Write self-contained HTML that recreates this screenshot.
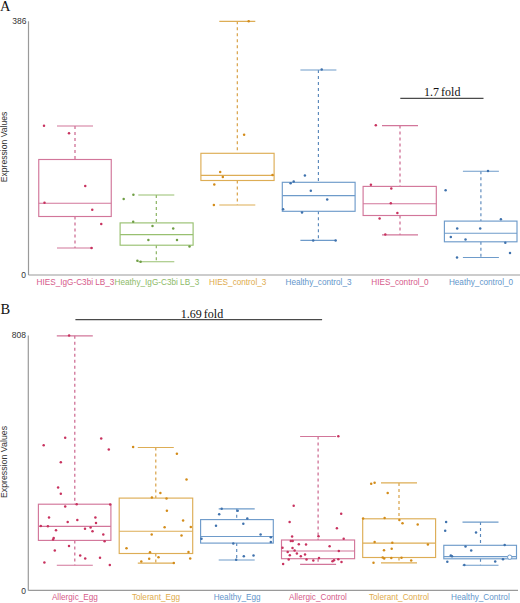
<!DOCTYPE html>
<html><head><meta charset="utf-8"><style>
html,body{margin:0;padding:0;background:#fff;width:520px;height:603px;overflow:hidden}
svg{display:block}
text{font-family:"Liberation Sans",sans-serif}
.serif{font-family:"Liberation Serif",serif}
</style></head><body>
<svg width="520" height="603" viewBox="0 0 520 603">
<text x="0" y="10.6" class="serif" font-size="14.5" fill="#111">A</text>
<line x1="28.5" y1="21.3" x2="28.5" y2="275" stroke="#9a9a9a" stroke-width="1.2"/>
<line x1="28.5" y1="275" x2="520" y2="275" stroke="#9a9a9a" stroke-width="1.2"/>
<text x="26.5" y="24.1" text-anchor="end" font-size="8.5" fill="#333">386</text>
<text x="26" y="278" text-anchor="end" font-size="8.5" fill="#333">0</text>
<text transform="translate(7,147) rotate(-90)" text-anchor="middle" font-size="8.6" fill="#333">Expression Values</text>
<g stroke="#d2769a" stroke-width="1.15" fill="none">
<line x1="75" y1="126" x2="75" y2="159.5" stroke="#c95f89" stroke-dasharray="3,3"/>
<line x1="75" y1="216.5" x2="75" y2="248" stroke="#c95f89" stroke-dasharray="3,3"/>
<line x1="57" y1="126" x2="93" y2="126"/>
<line x1="57" y1="248" x2="93" y2="248"/>
<rect x="38.75" y="159.5" width="72.50" height="57.00"/>
<line x1="38.75" y1="203.25" x2="111.25" y2="203.25"/>
</g>
<g fill="#c8325f"><circle cx="44" cy="125.75" r="1.25"/><circle cx="69" cy="133.25" r="1.25"/><circle cx="85.25" cy="186" r="1.25"/><circle cx="44.5" cy="202.75" r="1.25"/><circle cx="92.25" cy="209.75" r="1.25"/><circle cx="101.25" cy="224" r="1.25"/><circle cx="91.5" cy="248" r="1.25"/></g>
<g stroke="#98c070" stroke-width="1.15" fill="none">
<line x1="156.3" y1="195" x2="156.3" y2="222.9" stroke="#86b05c" stroke-dasharray="3,3"/>
<line x1="156.3" y1="245.2" x2="156.3" y2="261.7" stroke="#86b05c" stroke-dasharray="3,3"/>
<line x1="138.3" y1="195" x2="174.3" y2="195"/>
<line x1="138.3" y1="261.7" x2="174.3" y2="261.7"/>
<rect x="120.1" y="222.9" width="73.00" height="22.30"/>
<line x1="120.1" y1="234.6" x2="193.1" y2="234.6"/>
</g>
<g fill="#6f9e45"><circle cx="133.4" cy="194.8" r="1.25"/><circle cx="123.7" cy="199" r="1.25"/><circle cx="133.2" cy="221.7" r="1.25"/><circle cx="152.5" cy="225.9" r="1.25"/><circle cx="173.2" cy="228.4" r="1.25"/><circle cx="148.4" cy="239.9" r="1.25"/><circle cx="177" cy="239.9" r="1.25"/><circle cx="189.5" cy="246.6" r="1.25"/><circle cx="137.4" cy="260.8" r="1.25"/><circle cx="140.6" cy="261.7" r="1.25"/></g>
<g stroke="#ddad55" stroke-width="1.15" fill="none">
<line x1="237.3" y1="21.3" x2="237.3" y2="153.3" stroke="#d69d3e" stroke-dasharray="3,3"/>
<line x1="237.3" y1="180.5" x2="237.3" y2="205" stroke="#d69d3e" stroke-dasharray="3,3"/>
<line x1="219.3" y1="21.3" x2="255.3" y2="21.3"/>
<line x1="219.3" y1="205" x2="255.3" y2="205"/>
<rect x="200.9" y="153.3" width="73.20" height="27.20"/>
<line x1="200.9" y1="175.3" x2="274.1" y2="175.3"/>
</g>
<g fill="#d38c1a"><circle cx="248.7" cy="21.3" r="1.25"/><circle cx="244.1" cy="134.8" r="1.25"/><circle cx="220.2" cy="172" r="1.25"/><circle cx="222.8" cy="176.9" r="1.25"/><circle cx="272.5" cy="175" r="1.25"/><circle cx="214.3" cy="184.5" r="1.25"/><circle cx="213.9" cy="205" r="1.25"/></g>
<g stroke="#6e9bca" stroke-width="1.15" fill="none">
<line x1="318.4" y1="70" x2="318.4" y2="182.3" stroke="#5a88bb" stroke-dasharray="3,3"/>
<line x1="318.4" y1="211.3" x2="318.4" y2="240.4" stroke="#5a88bb" stroke-dasharray="3,3"/>
<line x1="300.4" y1="70" x2="336.4" y2="70"/>
<line x1="300.4" y1="240.4" x2="336.4" y2="240.4"/>
<rect x="282.3" y="182.3" width="72.80" height="29.00"/>
<line x1="282.3" y1="195.6" x2="355.1" y2="195.6"/>
</g>
<g fill="#3f72ad"><circle cx="321.7" cy="69.4" r="1.25"/><circle cx="304.9" cy="175.4" r="1.25"/><circle cx="290.6" cy="183.3" r="1.25"/><circle cx="293.7" cy="181.6" r="1.25"/><circle cx="310.8" cy="190.8" r="1.25"/><circle cx="327.2" cy="199.4" r="1.25"/><circle cx="283.1" cy="209.3" r="1.25"/><circle cx="302" cy="212.4" r="1.25"/><circle cx="313.2" cy="240.4" r="1.25"/><circle cx="335.6" cy="240.4" r="1.25"/></g>
<g stroke="#d2769a" stroke-width="1.15" fill="none">
<line x1="400" y1="125.6" x2="400" y2="186.4" stroke="#c95f89" stroke-dasharray="3,3"/>
<line x1="400" y1="215.5" x2="400" y2="234.9" stroke="#c95f89" stroke-dasharray="3,3"/>
<line x1="382" y1="125.6" x2="418" y2="125.6"/>
<line x1="382" y1="234.9" x2="418" y2="234.9"/>
<rect x="363.1" y="186.4" width="73.20" height="29.10"/>
<line x1="363.1" y1="203.7" x2="436.3" y2="203.7"/>
</g>
<g fill="#c8325f"><circle cx="375.8" cy="125.2" r="1.25"/><circle cx="370.9" cy="184.7" r="1.25"/><circle cx="391.3" cy="188.5" r="1.25"/><circle cx="390.8" cy="203.2" r="1.25"/><circle cx="397.4" cy="212.9" r="1.25"/><circle cx="379.6" cy="218.4" r="1.25"/><circle cx="385.3" cy="234.5" r="1.25"/></g>
<g stroke="#6e9bca" stroke-width="1.15" fill="none">
<line x1="480.9" y1="171.2" x2="480.9" y2="221.1" stroke="#5a88bb" stroke-dasharray="3,3"/>
<line x1="480.9" y1="241.8" x2="480.9" y2="257.5" stroke="#5a88bb" stroke-dasharray="3,3"/>
<line x1="462.9" y1="171.2" x2="498.9" y2="171.2"/>
<line x1="462.9" y1="257.5" x2="498.9" y2="257.5"/>
<rect x="444.4" y="221.1" width="72.60" height="20.70"/>
<line x1="444.4" y1="233.2" x2="517" y2="233.2"/>
</g>
<g fill="#3f72ad"><circle cx="488" cy="170.9" r="1.25"/><circle cx="445.6" cy="190.3" r="1.25"/><circle cx="500.9" cy="219.2" r="1.25"/><circle cx="457.2" cy="228.5" r="1.25"/><circle cx="480.2" cy="228.5" r="1.25"/><circle cx="450.8" cy="237" r="1.25"/><circle cx="465.5" cy="239.6" r="1.25"/><circle cx="505.3" cy="242.7" r="1.25"/><circle cx="457" cy="257.5" r="1.25"/><circle cx="510" cy="253" r="1.25"/></g>
<text x="75.5" y="284.7" text-anchor="middle" font-size="8.2" fill="#d65b8a">HIES_IgG-C3bi LB_3</text>
<text x="156.9" y="284.7" text-anchor="middle" font-size="8.2" fill="#8dba68">Heathy_IgG-C3bi LB_3</text>
<text x="237.65" y="284.7" text-anchor="middle" font-size="8.2" fill="#e0ab4c">HIES_control_3</text>
<text x="318.5" y="284.7" text-anchor="middle" font-size="8.2" fill="#6396cb">Healthy_control_3</text>
<text x="400" y="284.7" text-anchor="middle" font-size="8.2" fill="#d65b8a">HIES_control_0</text>
<text x="481" y="284.7" text-anchor="middle" font-size="8.2" fill="#6396cb">Heathy_control_0</text>
<line x1="400.3" y1="98.4" x2="483.5" y2="98.4" stroke="#4a4a4a" stroke-width="1.3"/>
<text x="442.2" y="96.3" text-anchor="middle" class="serif" font-size="12" fill="#111" word-spacing="-0.8">1.7 fold</text>
<text x="0.5" y="314.2" class="serif" font-size="14.5" fill="#111">B</text>
<line x1="28.3" y1="335.4" x2="28.3" y2="590.4" stroke="#9a9a9a" stroke-width="1.2"/>
<line x1="28.3" y1="590.4" x2="518" y2="590.4" stroke="#9a9a9a" stroke-width="1.2"/>
<text x="26" y="338" text-anchor="end" font-size="8.5" fill="#333">808</text>
<text x="26" y="593.5" text-anchor="end" font-size="8.5" fill="#333">0</text>
<text transform="translate(7,462) rotate(-90)" text-anchor="middle" font-size="8.8" fill="#333">Expression Values</text>
<g stroke="#d2769a" stroke-width="1.15" fill="none">
<line x1="74.8" y1="335.8" x2="74.8" y2="504.2" stroke="#c95f89" stroke-dasharray="3,3"/>
<line x1="74.8" y1="540.4" x2="74.8" y2="565.2" stroke="#c95f89" stroke-dasharray="3,3"/>
<line x1="56.8" y1="335.8" x2="92.8" y2="335.8"/>
<line x1="56.8" y1="565.2" x2="92.8" y2="565.2"/>
<rect x="38.4" y="504.2" width="72.50" height="36.20"/>
<line x1="38.4" y1="526.3" x2="110.9" y2="526.3"/>
</g>
<g fill="#c8325f"><circle cx="69.1" cy="335.6" r="1.25"/><circle cx="43.7" cy="445.2" r="1.25"/><circle cx="65.2" cy="437.7" r="1.25"/><circle cx="101.2" cy="438.5" r="1.25"/><circle cx="108.8" cy="449.6" r="1.25"/><circle cx="60.8" cy="462.3" r="1.25"/><circle cx="58.1" cy="487.5" r="1.25"/><circle cx="60.8" cy="493.8" r="1.25"/><circle cx="65.2" cy="506.6" r="1.25"/><circle cx="76.7" cy="504.2" r="1.25"/><circle cx="110.2" cy="504.4" r="1.25"/><circle cx="49" cy="517.5" r="1.25"/><circle cx="67.7" cy="522.1" r="1.25"/><circle cx="77.3" cy="520" r="1.25"/><circle cx="95.4" cy="517.5" r="1.25"/><circle cx="96" cy="523.1" r="1.25"/><circle cx="40.8" cy="526" r="1.25"/><circle cx="47.9" cy="526.3" r="1.25"/><circle cx="56" cy="530.2" r="1.25"/><circle cx="85" cy="528.7" r="1.25"/><circle cx="90.6" cy="527.5" r="1.25"/><circle cx="92.5" cy="531.3" r="1.25"/><circle cx="103.3" cy="534.4" r="1.25"/><circle cx="53.7" cy="538.1" r="1.25"/><circle cx="53.1" cy="539.4" r="1.25"/><circle cx="104.6" cy="541.2" r="1.25"/><circle cx="69" cy="546" r="1.25"/><circle cx="54.8" cy="550.4" r="1.25"/><circle cx="80.2" cy="555.4" r="1.25"/><circle cx="85.2" cy="558.5" r="1.25"/><circle cx="100" cy="557.7" r="1.25"/><circle cx="44.4" cy="562.5" r="1.25"/><circle cx="109.8" cy="565" r="1.25"/></g>
<g stroke="#ddad55" stroke-width="1.15" fill="none">
<line x1="155.8" y1="447.5" x2="155.8" y2="498.1" stroke="#d69d3e" stroke-dasharray="3,3"/>
<line x1="155.8" y1="553.5" x2="155.8" y2="563.1" stroke="#d69d3e" stroke-dasharray="3,3"/>
<line x1="137.8" y1="447.5" x2="173.8" y2="447.5"/>
<line x1="137.8" y1="563.1" x2="173.8" y2="563.1"/>
<rect x="119.2" y="498.1" width="73.50" height="55.40"/>
<line x1="119.2" y1="531.2" x2="192.7" y2="531.2"/>
</g>
<g fill="#d38c1a"><circle cx="133.1" cy="446.9" r="1.25"/><circle cx="176.9" cy="453.8" r="1.25"/><circle cx="186.5" cy="479.6" r="1.25"/><circle cx="160.4" cy="492.9" r="1.25"/><circle cx="151.9" cy="497.5" r="1.25"/><circle cx="166.5" cy="498.5" r="1.25"/><circle cx="166.9" cy="510.7" r="1.25"/><circle cx="183.1" cy="520.4" r="1.25"/><circle cx="164.6" cy="527.3" r="1.25"/><circle cx="190.8" cy="527.1" r="1.25"/><circle cx="151.7" cy="534.6" r="1.25"/><circle cx="181.5" cy="535.6" r="1.25"/><circle cx="126.5" cy="548.3" r="1.25"/><circle cx="150" cy="552.3" r="1.25"/><circle cx="188.5" cy="552.1" r="1.25"/><circle cx="158.5" cy="557.3" r="1.25"/><circle cx="149.2" cy="558.8" r="1.25"/><circle cx="190.2" cy="558.5" r="1.25"/><circle cx="141.3" cy="561.5" r="1.25"/><circle cx="173.8" cy="562.9" r="1.25"/></g>
<g stroke="#6e9bca" stroke-width="1.15" fill="none">
<line x1="236.7" y1="508.8" x2="236.7" y2="519.6" stroke="#5a88bb" stroke-dasharray="3,3"/>
<line x1="236.7" y1="543.1" x2="236.7" y2="560" stroke="#5a88bb" stroke-dasharray="3,3"/>
<line x1="218.7" y1="508.8" x2="254.7" y2="508.8"/>
<line x1="218.7" y1="560" x2="254.7" y2="560"/>
<rect x="200.6" y="519.6" width="72.70" height="23.50"/>
<line x1="200.6" y1="536.5" x2="273.3" y2="536.5"/>
</g>
<g fill="#3f72ad"><circle cx="221.7" cy="508.8" r="1.25"/><circle cx="237.7" cy="510.8" r="1.25"/><circle cx="219.2" cy="514.2" r="1.25"/><circle cx="247.3" cy="518.5" r="1.25"/><circle cx="216" cy="525.8" r="1.25"/><circle cx="243.3" cy="523.8" r="1.25"/><circle cx="260.6" cy="534.6" r="1.25"/><circle cx="201.5" cy="538.8" r="1.25"/><circle cx="270.8" cy="537.3" r="1.25"/><circle cx="270.8" cy="542.1" r="1.25"/><circle cx="233.3" cy="543.5" r="1.25"/><circle cx="243.8" cy="556.3" r="1.25"/><circle cx="253.5" cy="555.4" r="1.25"/><circle cx="236.2" cy="559.8" r="1.25"/></g>
<g stroke="#d2769a" stroke-width="1.15" fill="none">
<line x1="318.1" y1="436.5" x2="318.1" y2="540" stroke="#c95f89" stroke-dasharray="3,3"/>
<line x1="318.1" y1="558.7" x2="318.1" y2="564.4" stroke="#c95f89" stroke-dasharray="3,3"/>
<line x1="300.1" y1="436.5" x2="336.1" y2="436.5"/>
<line x1="300.1" y1="564.4" x2="336.1" y2="564.4"/>
<rect x="281.5" y="540" width="73.10" height="18.70"/>
<line x1="281.5" y1="551" x2="354.6" y2="551"/>
</g>
<g fill="#c8325f"><circle cx="338.3" cy="436.2" r="1.25"/><circle cx="293.7" cy="505.8" r="1.25"/><circle cx="341.2" cy="513.8" r="1.25"/><circle cx="289.6" cy="522.1" r="1.25"/><circle cx="336.9" cy="528.3" r="1.25"/><circle cx="292.1" cy="536.5" r="1.25"/><circle cx="318.5" cy="536.2" r="1.25"/><circle cx="343.7" cy="538.8" r="1.25"/><circle cx="290.8" cy="541" r="1.25"/><circle cx="292.7" cy="541" r="1.25"/><circle cx="298.8" cy="544.2" r="1.25"/><circle cx="306" cy="544.4" r="1.25"/><circle cx="329.6" cy="546.2" r="1.25"/><circle cx="282.5" cy="547.7" r="1.25"/><circle cx="292.5" cy="548.1" r="1.25"/><circle cx="294.6" cy="550.4" r="1.25"/><circle cx="287.7" cy="551.9" r="1.25"/><circle cx="338.8" cy="551" r="1.25"/><circle cx="296.9" cy="553.5" r="1.25"/><circle cx="289.8" cy="555.2" r="1.25"/><circle cx="300.8" cy="556.2" r="1.25"/><circle cx="305" cy="554.4" r="1.25"/><circle cx="288.7" cy="559.6" r="1.25"/><circle cx="306.5" cy="559.6" r="1.25"/><circle cx="313.3" cy="560.6" r="1.25"/><circle cx="319" cy="558.1" r="1.25"/><circle cx="332.5" cy="561.2" r="1.25"/><circle cx="334" cy="560.2" r="1.25"/><circle cx="338.3" cy="559.2" r="1.25"/><circle cx="341.5" cy="561.9" r="1.25"/><circle cx="283.1" cy="564" r="1.25"/></g>
<g stroke="#ddad55" stroke-width="1.15" fill="none">
<line x1="399" y1="482.9" x2="399" y2="518.8" stroke="#d69d3e" stroke-dasharray="3,3"/>
<line x1="399" y1="557.5" x2="399" y2="562.9" stroke="#d69d3e" stroke-dasharray="3,3"/>
<line x1="381" y1="482.9" x2="417" y2="482.9"/>
<line x1="381" y1="562.9" x2="417" y2="562.9"/>
<rect x="362.7" y="518.8" width="72.90" height="38.70"/>
<line x1="362.7" y1="543.1" x2="435.6" y2="543.1"/>
</g>
<g fill="#d38c1a"><circle cx="371.2" cy="483.7" r="1.25"/><circle cx="374.6" cy="482.7" r="1.25"/><circle cx="387.7" cy="493.1" r="1.25"/><circle cx="363.1" cy="518.5" r="1.25"/><circle cx="384.6" cy="518.1" r="1.25"/><circle cx="399.4" cy="520" r="1.25"/><circle cx="402.5" cy="523.3" r="1.25"/><circle cx="417.7" cy="524.4" r="1.25"/><circle cx="374.6" cy="542.1" r="1.25"/><circle cx="392.3" cy="542.7" r="1.25"/><circle cx="427.9" cy="544.6" r="1.25"/><circle cx="384" cy="550.2" r="1.25"/><circle cx="391.7" cy="548.8" r="1.25"/><circle cx="382.7" cy="557.5" r="1.25"/><circle cx="384.2" cy="558.5" r="1.25"/><circle cx="391.3" cy="558.1" r="1.25"/><circle cx="401.5" cy="557.7" r="1.25"/><circle cx="411.2" cy="560.4" r="1.25"/><circle cx="373.5" cy="562.7" r="1.25"/></g>
<g stroke="#6e9bca" stroke-width="1.15" fill="none">
<line x1="480.5" y1="522.1" x2="480.5" y2="545.3" stroke="#5a88bb" stroke-dasharray="3,3"/>
<line x1="480.5" y1="558.8" x2="480.5" y2="565.2" stroke="#5a88bb" stroke-dasharray="3,3"/>
<line x1="462.5" y1="522.1" x2="498.5" y2="522.1"/>
<line x1="462.5" y1="565.2" x2="498.5" y2="565.2"/>
<rect x="443.8" y="545.3" width="72.70" height="13.50"/>
<line x1="443.8" y1="556.6" x2="516.5" y2="556.6"/>
</g>
<g fill="#3f72ad"><circle cx="446.1" cy="522" r="1.25"/><circle cx="445.2" cy="530.8" r="1.25"/><circle cx="476" cy="532.4" r="1.25"/><circle cx="504.7" cy="545" r="1.25"/><circle cx="465.5" cy="546.4" r="1.25"/><circle cx="471.2" cy="550.5" r="1.25"/><circle cx="450.8" cy="555.4" r="1.25"/><circle cx="452" cy="556.2" r="1.25"/><circle cx="503" cy="559.3" r="1.25"/><circle cx="447.3" cy="561.8" r="1.25"/><circle cx="495.2" cy="561.4" r="1.25"/><circle cx="464.3" cy="564.9" r="1.25"/></g>
<circle cx="509.7" cy="557.2" r="2.2" fill="#fff" stroke="#6e9bca" stroke-width="1"/>
<text x="74.9" y="600" text-anchor="middle" font-size="8.2" fill="#d65b8a">Allergic_Egg</text>
<text x="156" y="600" text-anchor="middle" font-size="8.2" fill="#e0ab4c">Tolerant_Egg</text>
<text x="237.1" y="600" text-anchor="middle" font-size="8.2" fill="#6396cb">Healthy_Egg</text>
<text x="318" y="600" text-anchor="middle" font-size="8.2" fill="#d65b8a">Allergic_Control</text>
<text x="399" y="600" text-anchor="middle" font-size="8.2" fill="#e0ab4c">Tolerant_Control</text>
<text x="480.4" y="600" text-anchor="middle" font-size="8.2" fill="#6396cb">Healthy_Control</text>
<line x1="75.4" y1="319.65" x2="322.1" y2="319.65" stroke="#4a4a4a" stroke-width="1.3"/>
<text x="201.9" y="317.8" text-anchor="middle" class="serif" font-size="12" fill="#111" word-spacing="-0.8">1.69 fold</text>
</svg>
</body></html>
